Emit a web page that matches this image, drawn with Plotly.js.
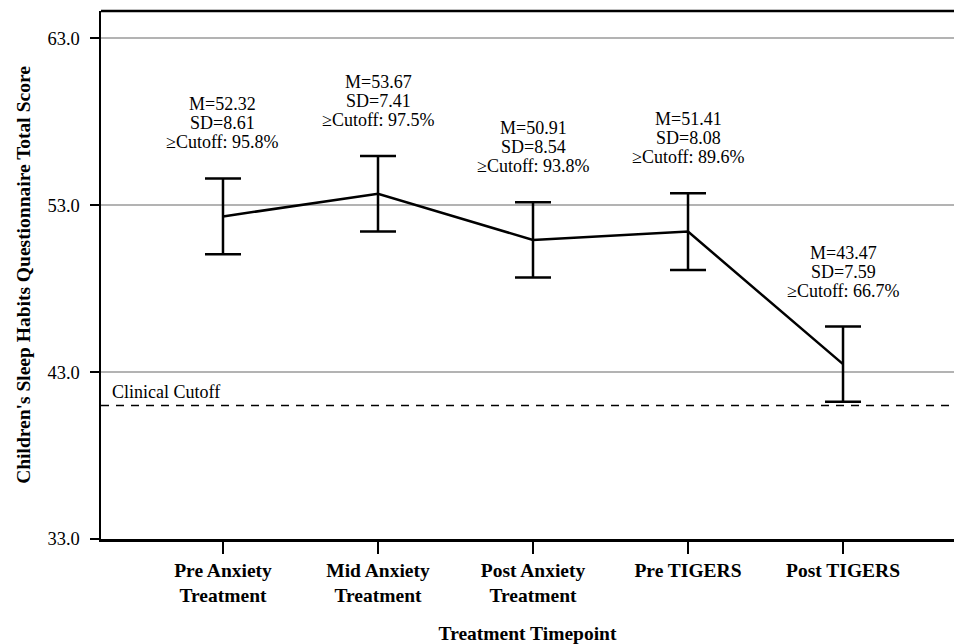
<!DOCTYPE html>
<html>
<head>
<meta charset="utf-8">
<script src="https://cdn.plot.ly/plotly-3.0.1.min.js"></script>
<style>html,body{margin:0;padding:0;background:#fff;}#chart{width:954px;height:644px;}</style>
</head>
<body>
<div id="chart"></div>
<script>
const categories = ["Pre Anxiety<br>Treatment", "Mid Anxiety<br>Treatment", "Post Anxiety<br>Treatment", "Pre TIGERS", "Post TIGERS"];
const means = [52.32, 53.67, 50.91, 51.41, 43.47];
const sds = [8.61, 7.41, 8.54, 8.08, 7.59];
const cutoffPct = [95.8, 97.5, 93.8, 89.6, 66.7];
const errHalf = [2.27, 2.26, 2.25, 2.30, 2.25];
const clinicalCutoff = 41;
const yTicks = [33, 43, 53, 63];

const xIdx = categories.map((c, i) => i);
const serif = "Liberation Serif, Times New Roman, serif";

const trace = {
  x: xIdx,
  y: means,
  type: "scatter",
  mode: "lines",
  line: {color: "#000", width: 2.5},
  error_y: {type: "data", array: errHalf, visible: true, color: "#000", thickness: 2.5, width: 18},
  hoverinfo: "skip"
};

const annotations = [];
means.forEach((m, i) => {
  const lines = [
    "M=" + m.toFixed(2),
    "SD=" + sds[i].toFixed(2),
    "≥Cutoff: " + cutoffPct[i].toFixed(1) + "%"
  ];
  lines.forEach((t, k) => {
    annotations.push({
      x: i, y: m + errHalf[i], xref: "x", yref: "y",
      text: t, showarrow: false, xanchor: "center", yanchor: "middle",
      yshift: 36 + (2 - k) * 19,
      font: {family: serif, size: 18, color: "#000"}
    });
  });
});
annotations.push({
  x: 0, xref: "paper", xanchor: "left", xshift: 9,
  y: clinicalCutoff, yref: "y", yanchor: "middle", yshift: 13,
  text: "Clinical Cutoff", showarrow: false,
  font: {family: serif, size: 18, color: "#000"}
});

const layout = {
  width: 954, height: 644,
  margin: {l: 101, r: 0, t: 11, b: 105},
  paper_bgcolor: "#fff", plot_bgcolor: "#fff",
  showlegend: false,
  font: {family: serif, color: "#000"},
  xaxis: {
    range: [-0.787, 4.716],
    tickmode: "array", tickvals: xIdx, ticktext: categories,
    showgrid: false, zeroline: false,
    showline: true, linecolor: "#000", linewidth: 2.5,
    ticks: "outside", ticklen: 12, tickwidth: 2, tickcolor: "#000",
    tickfont: {family: serif, size: 19.5, color: "#000", weight: "bold"},
    title: {text: "<b>Treatment Timepoint</b>", font: {family: serif, size: 19.5, color: "#000"}, standoff: 21}
  },
  yaxis: {
    range: [33, 64.62],
    tickmode: "array", tickvals: yTicks, ticktext: yTicks.map(v => v.toFixed(1)),
    showgrid: true, gridcolor: "#b3b3b3", gridwidth: 1.5,
    zeroline: false,
    showline: true, linecolor: "#000", linewidth: 2.5,
    ticks: "outside", ticklen: 9, tickwidth: 2, tickcolor: "#000",
    ticklabelstandoff: 6,
    tickfont: {family: serif, size: 18.5, color: "#000"},
    title: {text: "<b>Children's Sleep Habits Questionnaire Total Score</b>", font: {family: serif, size: 19.5, color: "#000"}, standoff: 12}
  },
  shapes: [
    {type: "line", xref: "paper", yref: "y", x0: 0, x1: 1, y0: clinicalCutoff, y1: clinicalCutoff,
     line: {color: "#000", width: 1.5, dash: "8px,7px"}, layer: "above"},
    {type: "line", xref: "paper", yref: "paper", x0: 0, x1: 1, y0: 1, y1: 1,
     line: {color: "#000", width: 2.5}}
  ],
  annotations: annotations
};

Plotly.newPlot("chart", [trace], layout, {displayModeBar: false, staticPlot: true});
</script>
</body>
</html>
